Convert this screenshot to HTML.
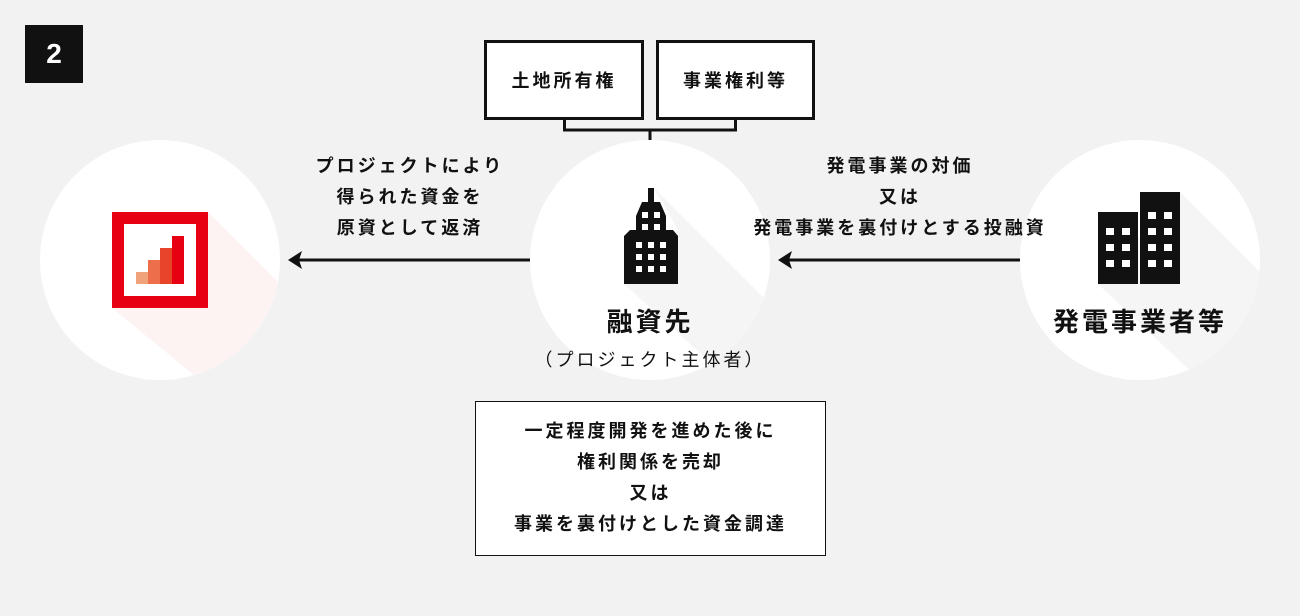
<!DOCTYPE html>
<html><head><meta charset="utf-8"><style>
html,body{margin:0;padding:0}
body{width:1300px;height:616px;background:#f2f2f2;position:relative;overflow:hidden;font-family:"Liberation Sans","Noto Sans CJK JP",sans-serif;color:#111}
.abs{position:absolute}
.circ{position:absolute;width:240px;height:240px;border-radius:50%;background:#fff;overflow:hidden}
.t{position:absolute;text-align:center;font-weight:bold;font-size:18px;letter-spacing:3px;line-height:31px}
.box{position:absolute;border:3px solid #111;background:#fff;box-sizing:border-box;display:flex;align-items:center;justify-content:center;font-weight:bold;font-size:18px;letter-spacing:3px}
</style></head><body>
<div class="abs" style="left:25px;top:25px;width:58px;height:58px;background:#111;color:#fff;font-weight:bold;font-size:28px;line-height:58px;text-align:center">2</div>

<div class="box" style="left:484px;top:40px;width:160px;height:80px">土地所有権</div>
<div class="box" style="left:656px;top:40px;width:159px;height:80px">事業権利等</div>
<svg class="abs" style="left:0;top:0" width="1300" height="616">
<path d="M564.5 120 V130 H735.5 V120 M650 130 V141" fill="none" stroke="#111" stroke-width="3"/>
</svg>

<div class="circ" style="left:40px;top:140px">
<svg width="240" height="240"><polygon points="168,72 240,144 240,240 160,240 72,168" fill="#fdf3f3"/></svg></div>
<div class="circ" style="left:530px;top:140px">
<svg width="240" height="240"><polygon points="124,48 240,164 240,240 200,240 94,144 148,90" fill="#f5f5f5"/></svg></div>
<div class="circ" style="left:1020px;top:140px">
<svg width="240" height="240"><polygon points="160,52 240,132 240,240 180,240 78,144" fill="#f5f5f5"/></svg></div>

<svg class="abs" style="left:0;top:0" width="1300" height="616">
<rect x="112" y="212" width="96" height="96" fill="#e60012"/>
<rect x="124" y="224" width="72" height="72" fill="#fff"/>
<rect x="136" y="272" width="12" height="12" fill="#f0a27a"/>
<rect x="148" y="260" width="12" height="24" fill="#ec6e4a"/>
<rect x="160" y="248" width="12" height="36" fill="#e8442a"/>
<rect x="172" y="236" width="12" height="48" fill="#e60012"/>
<rect x="648" y="188" width="6" height="16" fill="#111"/>
<polygon points="642,202 660,202 666,216 666,230 673,230 678,236 678,284 624,284 624,236 630,230 636,230 636,216" fill="#111"/>
<g fill="#fff">
<rect x="642" y="212" width="6" height="6"/><rect x="654" y="212" width="6" height="6"/>
<rect x="642" y="224" width="6" height="6"/><rect x="654" y="224" width="6" height="6"/>
<rect x="636" y="242" width="6" height="6"/><rect x="648" y="242" width="6" height="6"/><rect x="660" y="242" width="6" height="6"/>
<rect x="636" y="254" width="6" height="6"/><rect x="648" y="254" width="6" height="6"/><rect x="660" y="254" width="6" height="6"/>
<rect x="636" y="266" width="6" height="6"/><rect x="648" y="266" width="6" height="6"/><rect x="660" y="266" width="6" height="6"/>
</g>
<rect x="1098" y="212" width="40" height="72" fill="#111"/>
<rect x="1140" y="192" width="40" height="92" fill="#111"/>
<g fill="#fff">
<rect x="1106" y="228" width="8" height="7"/><rect x="1122" y="228" width="8" height="7"/>
<rect x="1106" y="244" width="8" height="7"/><rect x="1122" y="244" width="8" height="7"/>
<rect x="1106" y="260" width="8" height="7"/><rect x="1122" y="260" width="8" height="7"/>
<rect x="1148" y="212" width="8" height="7"/><rect x="1164" y="212" width="8" height="7"/>
<rect x="1148" y="228" width="8" height="7"/><rect x="1164" y="228" width="8" height="7"/>
<rect x="1148" y="244" width="8" height="7"/><rect x="1164" y="244" width="8" height="7"/>
<rect x="1148" y="260" width="8" height="7"/><rect x="1164" y="260" width="8" height="7"/>
</g>
<line x1="530" y1="260" x2="298" y2="260" stroke="#111" stroke-width="3"/>
<polygon points="288,260 302,251 299,260 302,269" fill="#111"/>
<line x1="1020" y1="260" x2="788" y2="260" stroke="#111" stroke-width="3"/>
<polygon points="778,260 792,251 789,260 792,269" fill="#111"/>
</svg>

<div class="t" style="left:280px;top:151px;width:260px">プロジェクトにより<br>得られた資金を<br>原資として返済</div>
<div class="t" style="left:730px;top:151px;width:340px">発電事業の対価<br>又は<br>発電事業を裏付けとする投融資</div>

<div class="abs" style="left:530px;top:304px;width:240px;text-align:center;font-weight:bold;font-size:26px;letter-spacing:3px;line-height:36px">融資先</div>
<div class="abs" style="left:490px;top:346px;width:320px;text-align:center;font-size:18px;letter-spacing:3px;line-height:28px">（プロジェクト主体者）</div>
<div class="abs" style="left:1000px;top:304px;width:280px;text-align:center;font-weight:bold;font-size:26px;letter-spacing:3px;line-height:36px">発電事業者等</div>

<div class="abs" style="left:475px;top:401px;width:351px;height:155px;border:1.5px solid #111;box-sizing:border-box;background:#fff"></div>
<div class="t" style="left:475px;top:416px;width:351px">一定程度開発を進めた後に<br>権利関係を売却<br>又は<br>事業を裏付けとした資金調達</div>
</body></html>
